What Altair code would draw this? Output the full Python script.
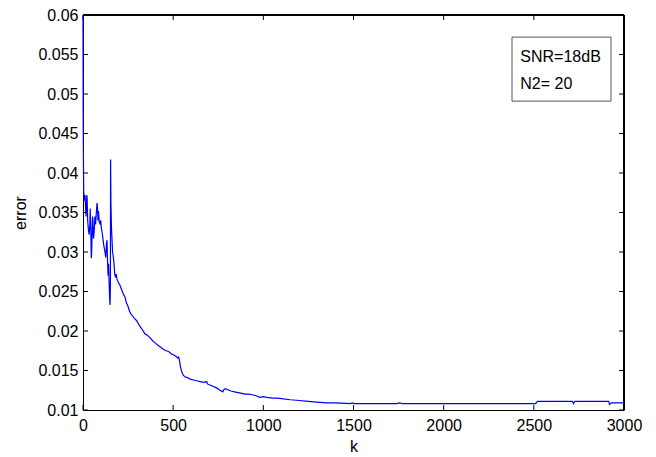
import altair as alt
import pandas as pd

k = [0, 1, 2, 3, 4, 6, 8, 10, 12, 15, 17, 19, 21, 23, 26, 30, 34, 38, 40, 43, 46, 48, 50, 53, 55, 58,
     62, 66, 70, 74, 78, 80, 83, 86, 90, 94, 98, 102, 106, 110, 114, 118, 122, 126, 130, 133, 136,
     139, 142, 145, 148, 150, 152, 153, 155, 158, 161, 164, 168, 172, 176, 180, 184, 188, 195, 205,
     215, 225, 233, 240, 250, 258, 265, 275, 285, 298, 310, 322, 334, 345, 355, 370, 385, 400, 415,
     427, 445, 460, 475, 490, 501, 515, 525, 530, 535, 540, 548, 556, 565, 580, 595, 612, 630, 650,
     670, 686, 690, 700, 720, 740, 760, 775, 782, 790, 800, 820, 840, 860, 880, 900, 920, 944, 960,
     981, 1000, 1020, 1050, 1080, 1111, 1150, 1200, 1250, 1296, 1350, 1400, 1481, 1495, 1505, 1740,
     1755, 1770, 2510, 2520, 2715, 2720, 2728, 2915, 2920, 2930, 3000]
err = [0.060, 0.047, 0.043, 0.040, 0.0375, 0.0372, 0.0365, 0.0372, 0.0370, 0.0352, 0.0345, 0.0358,
       0.0372, 0.0368, 0.0340, 0.0328, 0.0322, 0.0335, 0.0355, 0.0330, 0.0292, 0.0300, 0.0320,
       0.0345, 0.0340, 0.0317, 0.0325, 0.0345, 0.0335, 0.0350, 0.0362, 0.0358, 0.0340, 0.0352,
       0.0338, 0.0336, 0.0340, 0.0330, 0.0325, 0.0318, 0.0310, 0.0305, 0.0300, 0.0293, 0.0310,
       0.0315, 0.0290, 0.0270, 0.0285, 0.0260, 0.0240, 0.0233, 0.0260, 0.0417, 0.0360, 0.0330,
       0.0315, 0.0300, 0.0294, 0.0285, 0.0272, 0.0268, 0.0272, 0.0266, 0.0262, 0.0258, 0.0252,
       0.0246, 0.0243, 0.0236, 0.0231, 0.0225, 0.0222, 0.0219, 0.0216, 0.0213, 0.0208, 0.0204,
       0.0200, 0.0196, 0.0195, 0.0192, 0.0188, 0.0185, 0.0182, 0.0180, 0.0177, 0.0175, 0.0174,
       0.0171, 0.0170, 0.0168, 0.0166, 0.0167, 0.0163, 0.0155, 0.0148, 0.0144, 0.0142, 0.0141,
       0.0139, 0.0138, 0.0137, 0.0136, 0.0135, 0.0136, 0.0133, 0.0132, 0.0130, 0.0128, 0.0125,
       0.0123, 0.0126, 0.0127, 0.0126, 0.0124, 0.0123, 0.0122, 0.0121, 0.0120, 0.0120, 0.0119,
       0.0118, 0.0116, 0.0117, 0.0116, 0.0115, 0.0115, 0.0114, 0.0113, 0.0112, 0.0111, 0.0110,
       0.0109, 0.0109, 0.0108, 0.0109, 0.0108, 0.0108, 0.0109, 0.0108, 0.0108, 0.0111, 0.0111,
       0.0108, 0.0111, 0.0111, 0.0107, 0.0109, 0.0109]

x_ticks = [0, 500, 1000, 1500, 2000, 2500, 3000]
y_ticks = [0.01, 0.015, 0.02, 0.025, 0.03, 0.035, 0.04, 0.045, 0.05, 0.055, 0.06]
note_lines = ["SNR=18dB", "N2= 20"]
note_y = [0.0547, 0.0513]

FONT = "Liberation Sans"
W, H = 541, 395

xs = alt.Scale(domain=[0, 3000], nice=False, zero=False)
ys = alt.Scale(domain=[0.01, 0.06], nice=False, zero=False)

x_axis = alt.Axis(values=x_ticks, ticks=False, domain=True, grid=False,
                  labelPadding=7, titlePadding=5, format="d",
                  labelOverlap=False, labelFlush=False, labelBound=False)
y_axis = alt.Axis(values=y_ticks, ticks=False, domain=True, grid=False,
                  labelPadding=5, titlePadding=9, format="~g",
                  labelOverlap=False, labelFlush=False, labelBound=False)

df = pd.DataFrame({"k": k, "err": err})
dx = pd.DataFrame({"xt": x_ticks})
dy = pd.DataFrame({"yt": y_ticks})
dnote = pd.DataFrame({"t": note_lines, "yy": note_y, "xx": [2425, 2425]})
dbox = pd.DataFrame({"x1": [2379], "x2": [2928], "y1": [0.0572], "y2": [0.0491]})

# frame (top and right edges; left/bottom come from axis domains) drawn below the curve
frame_top = alt.Chart(dx).mark_rule(color="black", strokeWidth=1).encode(
    x=alt.value(0), x2=alt.value(W), y=alt.value(0))
frame_right = alt.Chart(dx).mark_rule(color="black", strokeWidth=1).encode(
    y=alt.value(0), y2=alt.value(H), x=alt.value(W))

xt_bottom = alt.Chart(dx).mark_rule(color="black", strokeWidth=1).encode(
    x=alt.X("xt:Q", scale=xs, axis=x_axis, title="k"), y=alt.value(H), y2=alt.value(H - 5))
xt_top = alt.Chart(dx).mark_rule(color="black", strokeWidth=1).encode(
    x=alt.X("xt:Q", scale=xs, axis=x_axis, title="k"), y=alt.value(0), y2=alt.value(5))
yt_left = alt.Chart(dy).mark_rule(color="black", strokeWidth=1).encode(
    y=alt.Y("yt:Q", scale=ys, axis=y_axis, title="error"), x=alt.value(0), x2=alt.value(5))
yt_right = alt.Chart(dy).mark_rule(color="black", strokeWidth=1).encode(
    y=alt.Y("yt:Q", scale=ys, axis=y_axis, title="error"), x=alt.value(W), x2=alt.value(W - 5))

line = alt.Chart(df).mark_line(color="#0000ff", strokeWidth=1.2).encode(
    x=alt.X("k:Q", scale=xs, title="k", axis=x_axis),
    y=alt.Y("err:Q", scale=ys, title="error", axis=y_axis),
)

box = alt.Chart(dbox).mark_rect(fill="white", stroke="#555555", strokeWidth=1).encode(
    x=alt.X("x1:Q", scale=xs, axis=x_axis, title="k"), x2="x2:Q",
    y=alt.Y("y1:Q", scale=ys, axis=y_axis, title="error"), y2="y2:Q")

note = alt.Chart(dnote).mark_text(align="left", baseline="middle", font=FONT,
                                  fontSize=16, color="black").encode(
    x=alt.X("xx:Q", scale=xs, axis=x_axis, title="k"),
    y=alt.Y("yy:Q", scale=ys, axis=y_axis, title="error"), text="t:N")

chart = alt.layer(frame_top, frame_right, xt_bottom, xt_top, yt_left, yt_right,
                  line, box, note).properties(
    width=W, height=H,
    autosize=alt.AutoSizeParams(type="none"),
    padding={"left": 75, "top": 7, "right": 24, "bottom": 47},
).configure_view(strokeWidth=0).configure_axis(
    labelFont=FONT, titleFont=FONT, labelFontSize=16, titleFontSize=16,
    titleFontWeight="normal", labelColor="black", titleColor="black",
    domainColor="black", domainWidth=1, labelOverlap=False,
)

chart.save("out.html", embed_options={"renderer": "svg", "actions": False})
